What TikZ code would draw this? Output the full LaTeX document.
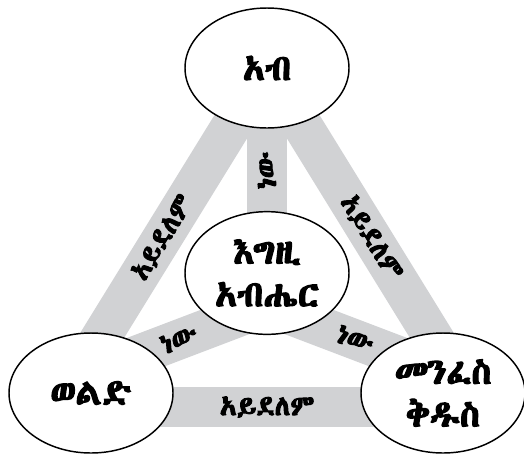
\documentclass[tikz,border=0pt]{standalone}
\usepackage{fontspec}
\usetikzlibrary{shapes.geometric,backgrounds}
\IfFontExistsTF{Abyssinica SIL}{\newfontfamily\ethFont[FakeBold=3.5]{Abyssinica SIL}}{%
  \IfFontExistsTF{FreeSerif.otf}{\newfontfamily\ethFont[FakeBold=3.5]{FreeSerif.otf}}{%
    \newfontfamily\ethFont[FakeBold=3.5]{Noto Sans Ethiopic}}}
\definecolor{bandGray}{RGB}{209,210,212}
\tikzstyle{personNode} = [ellipse, draw=black, fill=white, line width=1.1pt, inner sep=0pt,
  minimum width=123pt, minimum height=90pt, align=center, font=\ethFont\fontsize{27}{32}\selectfont]
\tikzstyle{bandLine} = [draw=bandGray, line width=30pt, line cap=butt]
\tikzstyle{bandText} = [midway, sloped, inner sep=0pt, text=black, font=\ethFont\fontsize{21}{22}\selectfont]

\begin{document}
\begin{tikzpicture}[x=0.75pt, y=-0.75pt]
  \useasboundingbox (0,0) rectangle (524,454);
  \node [personNode] (father) at (267,68) {አብ};
  \node [personNode, minimum height=92pt] (god) at (267,273) {እግዚ\\አብሔር};
  \node [personNode] (son) at (91,393) {ወልድ};
  \node [personNode] (spirit) at (443,393) {መንፈስ\\ቅዱስ};
  \begin{scope}[on background layer]
    \draw [bandLine] (father.center) -- ([shift={(-33,14)}]son.center) node [bandText] {አይደለም};
    \draw [bandLine] (father.center) -- ([shift={(33,14)}]spirit.center) node [bandText] {አይደለም};
    \draw [bandLine] ([shift={(-33,14)}]son.center) -- ([shift={(33,14)}]spirit.center) node [bandText] {አይደለም};
    \draw [bandLine] (god.center) -- (father.center) node [bandText] {ነው};
    \draw [bandLine] ([shift={(0,33)}]god.center) -- ([shift={(0,-20)}]son.center) node [bandText] {ነው};
    \draw [bandLine] ([shift={(0,33)}]god.center) -- ([shift={(0,-20)}]spirit.center) node [bandText] {ነው};
  \end{scope}
\end{tikzpicture}
\end{document}
